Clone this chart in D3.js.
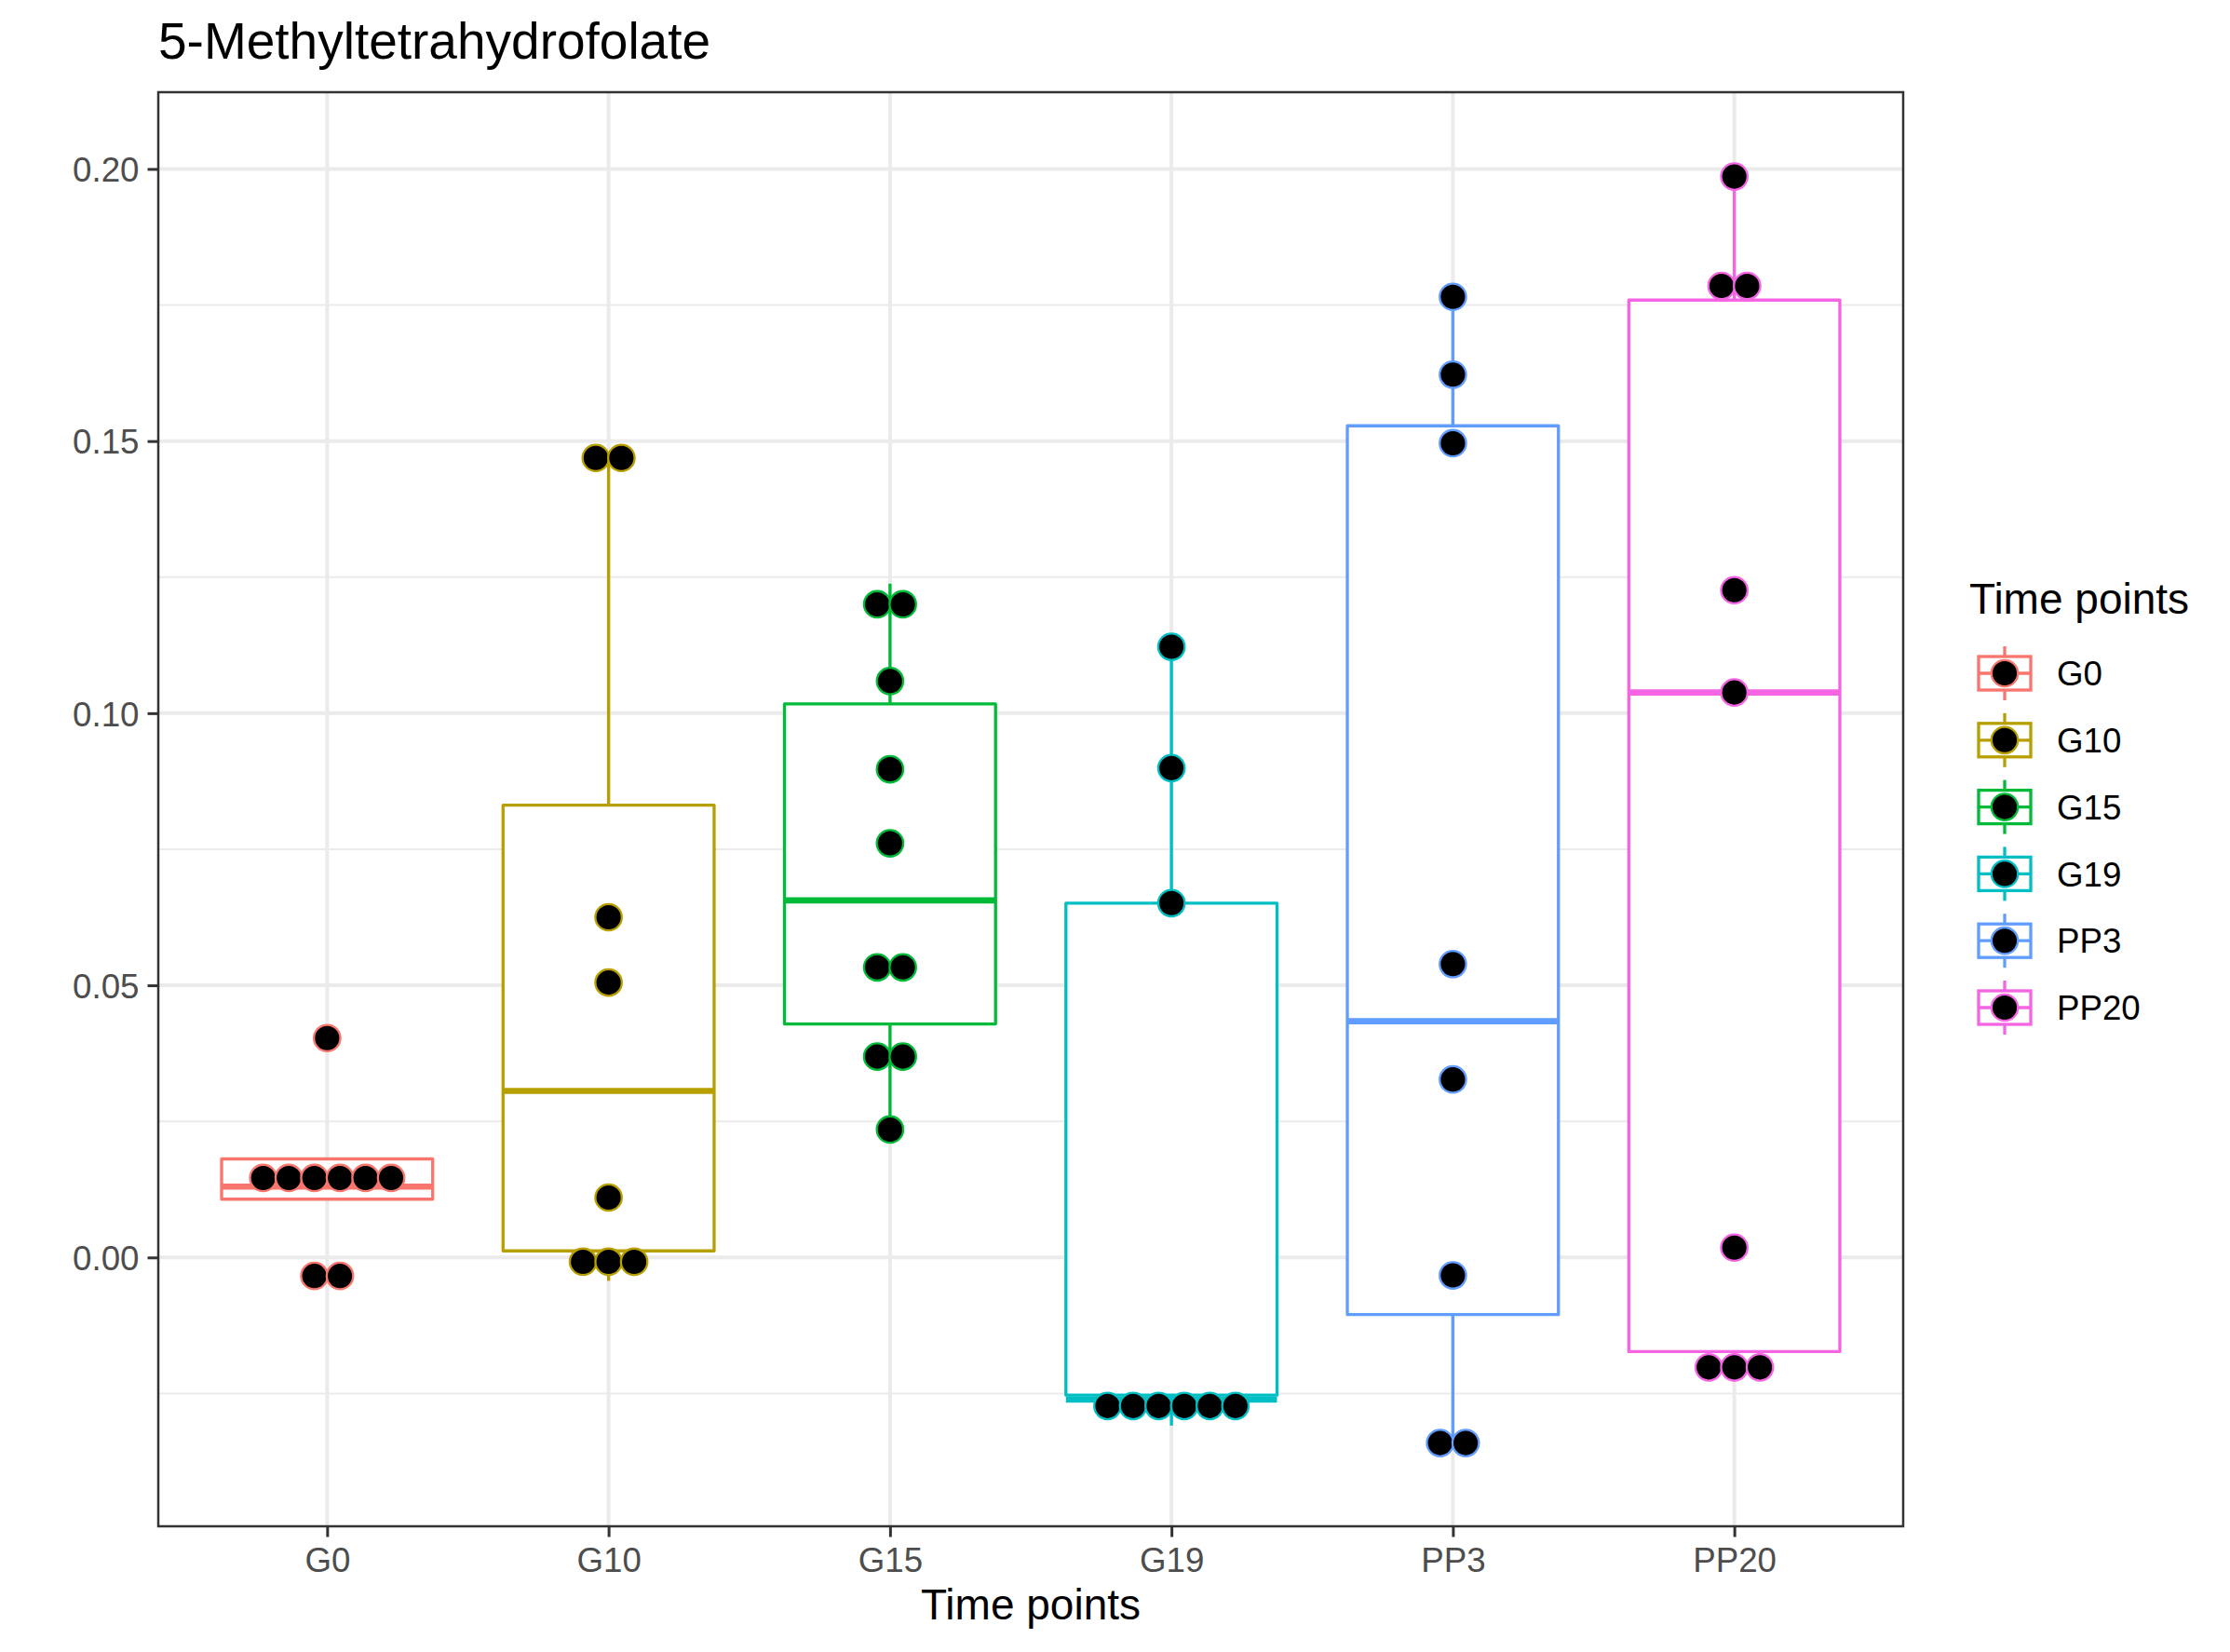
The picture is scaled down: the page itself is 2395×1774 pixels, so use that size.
<!DOCTYPE html>
<html>
<head>
<meta charset="utf-8">
<script src="https://cdn.jsdelivr.net/npm/d3@7"></script>
<style>
  html, body { margin: 0; padding: 0; background: #ffffff; }
  svg { display: block; font-family: "Liberation Sans", Arial, Helvetica, sans-serif; }
</style>
</head>
<body>
<script>
// ---------------- data ----------------
const categories = ["G0", "G10", "G15", "G19", "PP3", "PP20"];
const colors = ["#F8766D", "#B79F00", "#00BA38", "#00BFC4", "#619CFF", "#F564E3"];
const yTicks = [0.00, 0.05, 0.10, 0.15, 0.20];
const yTickLabels = ["0.00", "0.05", "0.10", "0.15", "0.20"];
const yMinor = [-0.025, 0.025, 0.075, 0.125, 0.175];
const yDomain = [-0.0494, 0.2141];

// box statistics (lower whisker, q1, median, q3, upper whisker)
const whiskerLow  = [0.0107, -0.0043, 0.0235, -0.0309, -0.0341, -0.0228];
const q1          = [0.0107,  0.0012, 0.0429, -0.0253, -0.0105, -0.0173];
const medians     = [0.0130,  0.0306, 0.0656, -0.0261,  0.0434,  0.1038];
const q3          = [0.0181,  0.0831, 0.1017,  0.0651,  0.1528,  0.1759];
const whiskerHigh = [0.0181,  0.1469, 0.1238,  0.1122,  0.1765,  0.1986];

// dot plot values (binned), one array per time point
const dotsG0   = [-0.0034, -0.0034, 0.0146, 0.0146, 0.0146, 0.0146, 0.0146, 0.0146, 0.0403];
const dotsG10  = [-0.0008, -0.0008, -0.0008, 0.0110, 0.0505, 0.0625, 0.1469, 0.1469];
const dotsG15  = [0.0235, 0.0369, 0.0369, 0.0533, 0.0533, 0.0761, 0.0897, 0.1059, 0.1200, 0.1200];
const dotsG19  = [-0.0273, -0.0273, -0.0273, -0.0273, -0.0273, -0.0273, 0.0651, 0.0899, 0.1122];
const dotsPP3  = [-0.0341, -0.0341, -0.0033, 0.0327, 0.0539, 0.1496, 0.1622, 0.1765];
const dotsPP20 = [-0.0202, -0.0202, -0.0202, 0.0018, 0.1038, 0.1226, 0.1785, 0.1785, 0.1986];
const dotSeries = [dotsG0, dotsG10, dotsG15, dotsG19, dotsPP3, dotsPP20];
const binwidth = 0.0047;

const chartTitle = "5-Methyltetrahydrofolate";
const xTitle = "Time points";
const legendTitle = "Time points";

// ---------------- layout ----------------
const W = 2395, H = 1774;
const panel = { left: 170, right: 2044, top: 99, bottom: 1639 };

const svg = d3.select("body").append("svg")
  .attr("width", W).attr("height", H)
  .attr("viewBox", `0 0 ${W} ${H}`);

svg.append("rect").attr("width", W).attr("height", H).attr("fill", "#ffffff");

const x = d3.scalePoint().domain(categories)
  .range([panel.left, panel.right]).padding(0.6);
const y = d3.scaleLinear().domain(yDomain).range([panel.bottom, panel.top]);
const step = x.step();
const boxW = step * 0.75;

// grid
const grid = svg.append("g");
grid.selectAll(".minor").data(yMinor).join("line")
  .attr("x1", panel.left).attr("x2", panel.right)
  .attr("y1", d => y(d)).attr("y2", d => y(d))
  .attr("stroke", "#EBEBEB").attr("stroke-width", 2);
grid.selectAll(".majory").data(yTicks).join("line")
  .attr("x1", panel.left).attr("x2", panel.right)
  .attr("y1", d => y(d)).attr("y2", d => y(d))
  .attr("stroke", "#EBEBEB").attr("stroke-width", 4);
grid.selectAll(".majorx").data(categories).join("line")
  .attr("x1", d => x(d)).attr("x2", d => x(d))
  .attr("y1", panel.top).attr("y2", panel.bottom)
  .attr("stroke", "#EBEBEB").attr("stroke-width", 4);

// boxplots
const boxes = svg.append("g");
categories.forEach((c, i) => {
  const g = boxes.append("g");
  const cx = x(c), col = colors[i];
  g.append("line").attr("x1", cx).attr("x2", cx)
    .attr("y1", y(q3[i])).attr("y2", y(whiskerHigh[i]))
    .attr("stroke", col).attr("stroke-width", 3.3);
  g.append("line").attr("x1", cx).attr("x2", cx)
    .attr("y1", y(q1[i])).attr("y2", y(whiskerLow[i]))
    .attr("stroke", col).attr("stroke-width", 3.3);
  g.append("rect")
    .attr("x", cx - boxW / 2).attr("width", boxW)
    .attr("y", y(q3[i])).attr("height", y(q1[i]) - y(q3[i]))
    .attr("fill", "#ffffff").attr("stroke", col).attr("stroke-width", 3.3)
    .attr("stroke-linejoin", "round");
  g.append("line")
    .attr("x1", cx - boxW / 2).attr("x2", cx + boxW / 2)
    .attr("y1", y(medians[i])).attr("y2", y(medians[i]))
    .attr("stroke", col).attr("stroke-width", 6.6);
});

// dot plots
const dotD = Math.abs(y(0) - y(binwidth));
const dotR = 14.2;
const dotsG = svg.append("g");
categories.forEach((c, i) => {
  const groups = d3.groups(dotSeries[i], v => v);
  groups.forEach(([v, arr]) => {
    const n = arr.length;
    arr.forEach((_, k) => {
      dotsG.append("circle")
        .attr("cx", x(c) + (k - (n - 1) / 2) * dotD)
        .attr("cy", y(v))
        .attr("r", dotR)
        .attr("fill", "#000000")
        .attr("stroke", colors[i]).attr("stroke-width", 2.3);
    });
  });
});

// panel border
svg.append("rect")
  .attr("x", panel.left).attr("y", panel.top)
  .attr("width", panel.right - panel.left).attr("height", panel.bottom - panel.top)
  .attr("fill", "none").attr("stroke", "#333333").attr("stroke-width", 2.5);

// axes
const yAxis = d3.axisLeft(y).tickValues(yTicks)
  .tickFormat((d, i) => yTickLabels[i]).tickSize(11.5).tickPadding(9);
const yg = svg.append("g").attr("transform", `translate(${panel.left},0)`).call(yAxis);
yg.select(".domain").remove();
yg.selectAll(".tick line").attr("stroke", "#333333").attr("stroke-width", 3);
yg.selectAll(".tick text").attr("fill", "#4D4D4D")
  .style("font-size", "36.7px").style("font-family", "'Liberation Sans', Arial, sans-serif")
  .attr("dy", "0.36em");

const xAxis = d3.axisBottom(x).tickSize(11.5).tickPadding(9);
const xg = svg.append("g").attr("transform", `translate(0,${panel.bottom})`).call(xAxis);
xg.select(".domain").remove();
xg.selectAll(".tick line").attr("stroke", "#333333").attr("stroke-width", 3);
xg.selectAll(".tick text").attr("fill", "#4D4D4D")
  .style("font-size", "36.7px").style("font-family", "'Liberation Sans', Arial, sans-serif")
  .attr("dy", "0.78em");

// titles
svg.append("text").attr("x", panel.left).attr("y", 63)
  .attr("fill", "#000000").style("font-size", "55px").text(chartTitle);
svg.append("text").attr("x", (panel.left + panel.right) / 2).attr("y", 1739)
  .attr("text-anchor", "middle").attr("fill", "#000000")
  .style("font-size", "46px").text(xTitle);

// legend
const leg = svg.append("g");
leg.append("text").attr("x", 2115).attr("y", 659)
  .attr("fill", "#000000").style("font-size", "46px").text(legendTitle);
const keyX = 2153, keyY0 = 723, keyStep = 71.8;
const keyW = 56, keyH = 36, keyWh = 11;
categories.forEach((c, i) => {
  const cy = keyY0 + i * keyStep, col = colors[i];
  const g = leg.append("g");
  g.append("line").attr("x1", keyX).attr("x2", keyX)
    .attr("y1", cy - keyH / 2 - keyWh).attr("y2", cy + keyH / 2 + keyWh)
    .attr("stroke", col).attr("stroke-width", 3.3);
  g.append("rect").attr("x", keyX - keyW / 2).attr("y", cy - keyH / 2)
    .attr("width", keyW).attr("height", keyH)
    .attr("fill", "#ffffff").attr("stroke", col).attr("stroke-width", 3.3);
  g.append("line").attr("x1", keyX - keyW / 2).attr("x2", keyX + keyW / 2)
    .attr("y1", cy).attr("y2", cy)
    .attr("stroke", col).attr("stroke-width", 3.3);
  g.append("circle").attr("cx", keyX).attr("cy", cy).attr("r", dotR)
    .attr("fill", "#000000").attr("stroke", col).attr("stroke-width", 2.3);
  g.append("text").attr("x", 2209).attr("y", cy).attr("dy", "0.36em")
    .attr("fill", "#000000").style("font-size", "36.7px").text(c);
});
</script>
</body>
</html>
